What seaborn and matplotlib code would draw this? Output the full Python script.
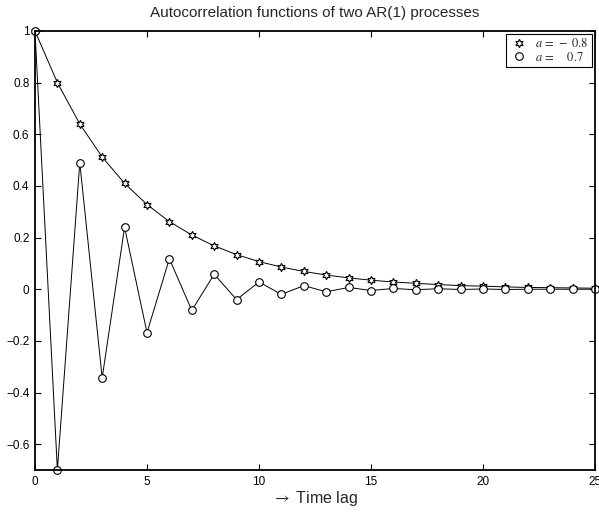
import matplotlib
matplotlib.use("Agg")
import matplotlib.pyplot as plt
import seaborn as sns
import pandas as pd

# Autocorrelation values at lags 0..25
lags = list(range(26))
acf_star = [1.0, 0.8, 0.64, 0.512, 0.41, 0.328, 0.262, 0.21, 0.168, 0.134,
            0.107, 0.086, 0.069, 0.055, 0.044, 0.035, 0.028, 0.023, 0.018,
            0.014, 0.012, 0.009, 0.007, 0.006, 0.005, 0.004]
acf_circle = [1.0, -0.7, 0.49, -0.343, 0.24, -0.168, 0.118, -0.082, 0.058,
              -0.04, 0.028, -0.02, 0.014, -0.01, 0.007, -0.005, 0.003,
              -0.002, 0.002, -0.001, 0.001, -0.001, 0.0, 0.0, 0.0, 0.0]
label_star = r"$a\,=\,-\ 0.8$"
label_circle = r"$a\,=\ \ \ \ 0.7$"
xticks = [0, 5, 10, 15, 20, 25]
yticks = [-0.6, -0.4, -0.2, 0, 0.2, 0.4, 0.6, 0.8, 1]
ytick_labels = ["\u22120.6", "\u22120.4", "\u22120.2", "0", "0.2", "0.4", "0.6", "0.8", "1"]

sns.set_style("ticks")
plt.rcParams["font.family"] = ["Liberation Sans", "DejaVu Sans"]
plt.rcParams["mathtext.fontset"] = "stix"

fig = plt.figure(figsize=(5.99, 5.13), dpi=100)
ax = fig.add_axes([0.0584, 0.0838, 0.9349, 0.8558])

df = pd.DataFrame({"lag": lags, "star": acf_star, "circle": acf_circle})

sns.lineplot(data=df, x="lag", y="star", ax=ax, color="black", linewidth=0.7,
             marker=(6, 1, 0), markersize=6, markerfacecolor="white",
             markeredgecolor="black", markeredgewidth=0.8, label=label_star,
             clip_on=False)
sns.lineplot(data=df, x="lag", y="circle", ax=ax, color="black", linewidth=0.7,
             marker="o", markersize=5.5, markerfacecolor="white",
             markeredgecolor="black", markeredgewidth=0.8, label=label_circle,
             clip_on=False)

ax.set_xlim(0, 25)
ax.set_ylim(-0.7, 1)
ax.set_xticks(xticks)
ax.set_xticklabels([str(t) for t in xticks])
ax.set_yticks(yticks)
ax.set_yticklabels(ytick_labels)
ax.tick_params(direction="in", length=4, width=0.8, top=True, right=True,
               labelsize=8.5, pad=4, colors="black")
for s in ax.spines.values():
    s.set_linewidth(1.3)
    s.set_color("black")

ax.set_xlabel(r"$\rightarrow$ Time lag", fontsize=11.5, labelpad=1)
ax.set_ylabel("")
ax.set_title("Autocorrelation functions of two AR(1) processes", fontsize=11, pad=10)

leg = ax.legend(loc="upper right", fontsize=9, frameon=True, fancybox=False,
                borderpad=0.25, handletextpad=0.5, labelspacing=0.05,
                handlelength=1.6, borderaxespad=0.25)
leg.get_frame().set_edgecolor("black")
leg.get_frame().set_linewidth(0.8)
leg.get_frame().set_alpha(1)
for line in leg.get_lines():
    line.set_linestyle("none")
for t in leg.get_texts():
    t.set_family(["Liberation Serif", "DejaVu Serif"])

fig.savefig("out.png", dpi=100)
